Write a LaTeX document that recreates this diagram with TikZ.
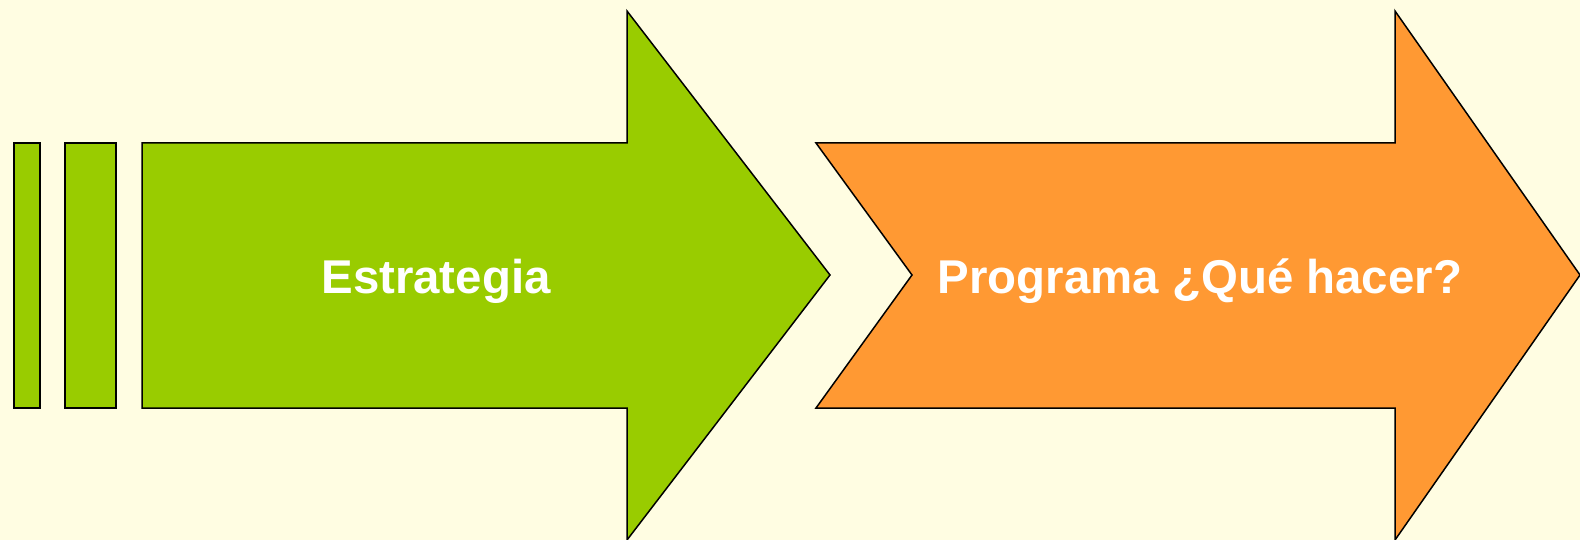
\documentclass[tikz,border=0pt]{standalone}
\usepackage{fontspec}
\setmainfont{Liberation Sans}
\definecolor{paper}{RGB}{255,253,226}
\definecolor{leaf}{RGB}{153,204,0}
\definecolor{peach}{RGB}{255,153,51}
\tikzset{
 shapeline/.style={draw=black,line width=0.75pt,line join=miter},
 label/.style={text=white,font=\fontsize{23.7}{28}\selectfont\bfseries,anchor=base,inner sep=0pt}
}
\begin{document}
\begin{tikzpicture}[x=0.5pt,y=-0.5pt]
 \fill[paper](0,0) rectangle (1580,540);
 \useasboundingbox (0,0) rectangle (1580,540);
 \draw[shapeline,fill=leaf](14,143) rectangle (40,408);
 \draw[shapeline,fill=leaf](65,143) rectangle (116,408);
 \draw[shapeline,fill=leaf](142,143)--(627,143)--(627,11)--(830,275)--(627,540)--(627,408)--(142,408)--cycle;
 \draw[shapeline,fill=peach](816,143)--(1395,143)--(1395,11)--(1580,275)--(1395,540)--(1395,408)--(816,408)--(912,275)--cycle;
 \node[label] (estrategia) at (436,293) {Estrategia};
 \node[label] (programa) at (1200,293) {Programa ¿Qué hacer?};
\end{tikzpicture}
\end{document}
